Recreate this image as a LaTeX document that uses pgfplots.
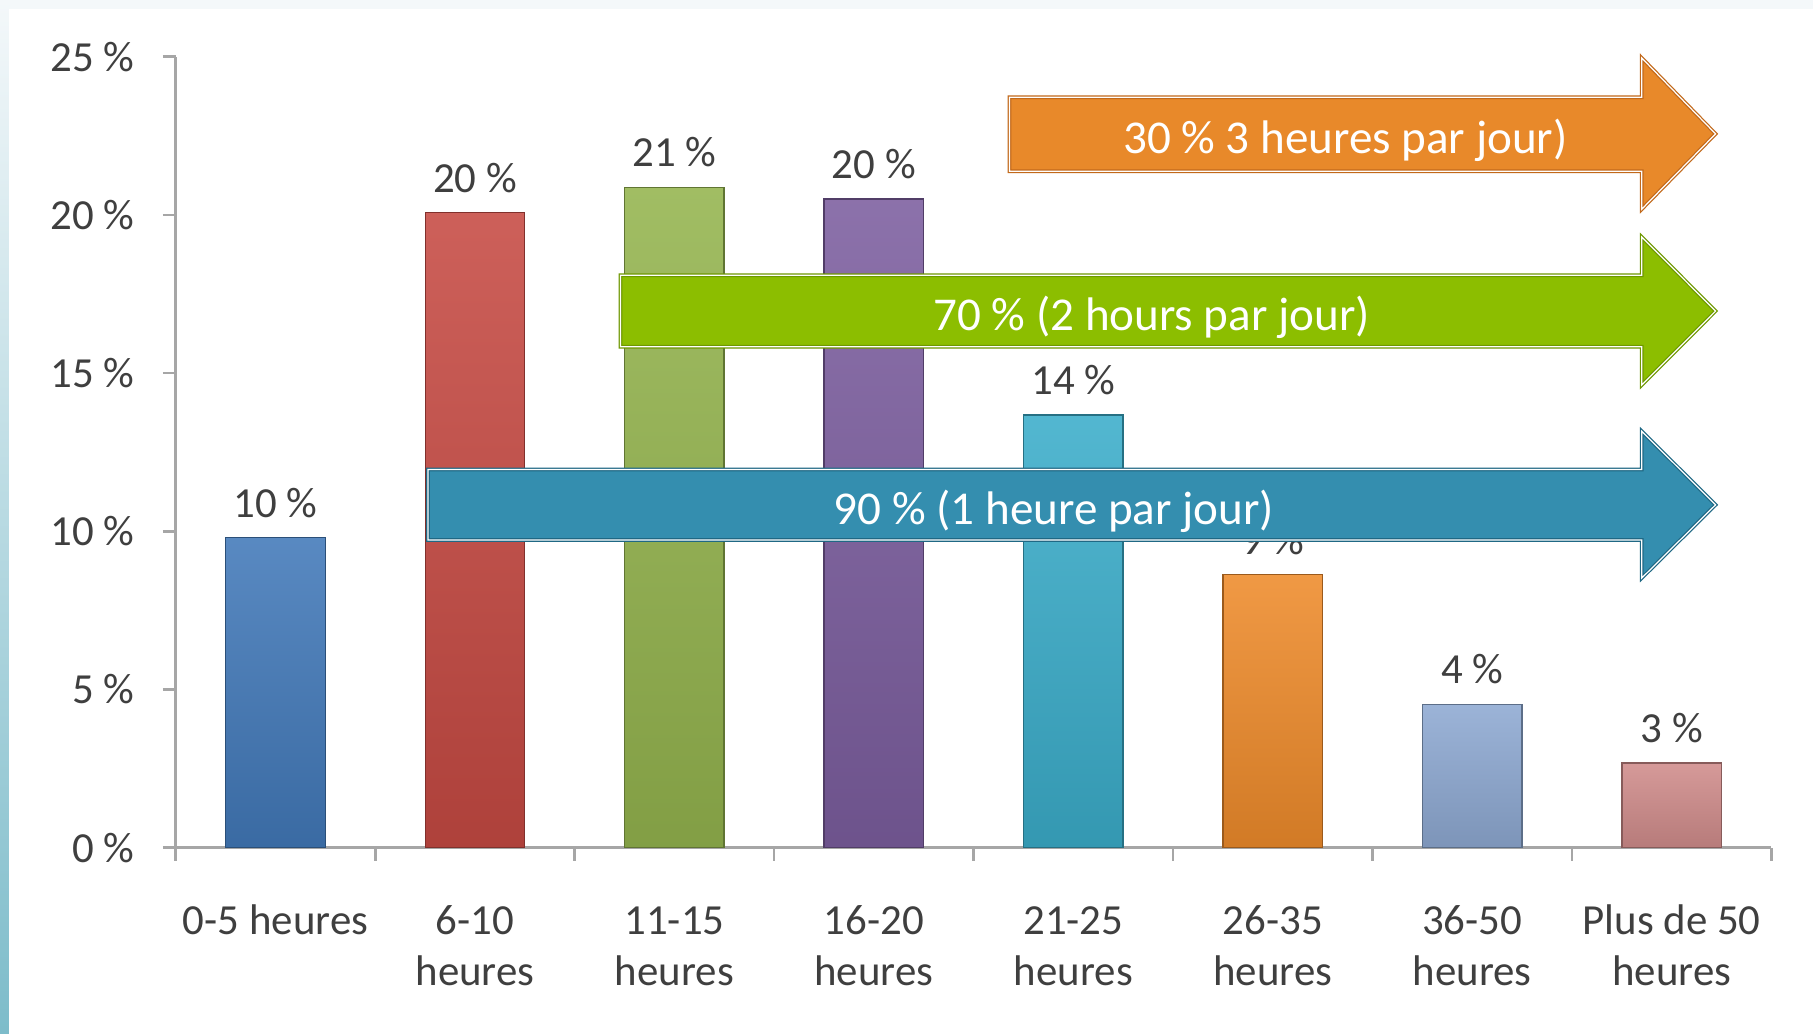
\documentclass[border=0pt]{standalone}
\usepackage{fontspec}
\setmainfont{Carlito}
\usepackage{pgfplots}
\pgfplotsset{compat=1.18}
\definecolor{txt}{HTML}{3F3F3F}
\definecolor{axisgray}{HTML}{A6A6A6}
\definecolor{cA}{HTML}{4279B9}
\definecolor{cB}{HTML}{C64A43}
\definecolor{cC}{HTML}{94B44E}
\definecolor{cD}{HTML}{7C5E9F}
\definecolor{cE}{HTML}{3BADCA}
\definecolor{cF}{HTML}{EE8B2B}
\definecolor{cG}{HTML}{8EA9D2}
\definecolor{cH}{HTML}{D08C8B}
\definecolor{arrO}{HTML}{E8892A}
\definecolor{arrOd}{HTML}{C2691B}
\definecolor{arrG}{HTML}{8CBE00}
\definecolor{arrGd}{HTML}{6E9800}
\definecolor{arrB}{HTML}{348EAF}
\definecolor{arrBd}{HTML}{1F6884}
\definecolor{bgtop}{HTML}{F4F8FA}
\definecolor{stripmid}{HTML}{D6E9EE}
\definecolor{stripbot}{HTML}{7DBCCA}
\pgfplotsset{
  barstyle/.style={ybar, bar width=9.95mm, bar shift=0pt,
    top color=#1!88!white, bottom color=#1!88!black, draw=#1!65!black, line width=0.4pt},
}
\begin{document}
\begin{tikzpicture}
\useasboundingbox (0,0) rectangle (181.3mm,103.4mm);
\fill[bgtop] (0,0) rectangle (181.3mm,103.4mm);
\shade[top color=bgtop, middle color=stripmid, bottom color=stripbot] (0,0) rectangle (0.9mm,103.4mm);
\fill[white] (0.9mm,0) rectangle (181.3mm,102.5mm);
\begin{axis}[
  at={(17.58mm,18.64mm)}, anchor=south west,
  scale only axis, width=159.56mm, height=79.09mm,
  xmin=0, xmax=8, ymin=0, ymax=25,
  axis x line*=bottom, axis y line*=left,
  axis line style={draw=axisgray, line width=0.75pt, -},
  tick align=outside,
  major tick length=1.3mm,
  tick style={draw=axisgray, line width=0.75pt},
  ytick={0,5,10,15,20,25},
  yticklabels={0 \%,5 \%,10 \%,15 \%,20 \%,25 \%},
  yticklabel style={font=\fontsize{12.2}{14}\selectfont, text=txt, inner sep=0pt, xshift=-2.8mm},
  xtick={0,1,2,3,4,5,6,7,8},
  xticklabels={},
  extra x ticks={0.5,1.5,2.5,3.5,4.5,5.5,6.5,7.5},
  extra x tick labels={\strut 0-5 heures,\strut 6-10\\heures,\strut 11-15\\heures,\strut 16-20\\heures,\strut 21-25\\heures,\strut 26-35\\heures,\strut 36-50\\heures,\strut Plus de 50\\heures},
  extra x tick style={major tick length=0pt,
    xticklabel style={font=\fontsize{12.2}{14.3}\selectfont, text=txt, align=center, anchor=north, inner sep=0pt, yshift=-5.15mm}},
  every node near coord/.append style={anchor=center, yshift=3.5mm, font=\fontsize{12.2}{14}\selectfont, text=txt},
  clip=false,
]
\addplot[barstyle=cA, nodes near coords={10 \%}] coordinates {(0.5,9.8)};
\addplot[barstyle=cB, nodes near coords={20 \%}] coordinates {(1.5,20.07)};
\addplot[barstyle=cC, nodes near coords={21 \%}] coordinates {(2.5,20.87)};
\addplot[barstyle=cD, nodes near coords={20 \%}] coordinates {(3.5,20.5)};
\addplot[barstyle=cE, nodes near coords={14 \%}] coordinates {(4.5,13.67)};
\addplot[barstyle=cF] coordinates {(5.5,8.63)};
\addplot[barstyle=cG, nodes near coords={4 \%}] coordinates {(6.5,4.53)};
\addplot[barstyle=cH, nodes near coords={3 \%}] coordinates {(7.5,2.67)};

\node[anchor=center, yshift=3.5mm, font=\fontsize{12.2}{14}\selectfont, text=txt] at (axis cs:5.5,8.63) {9 \%};

\draw[fill=arrO, draw=arrOd, line width=0.35pt, double=white, double distance=0.35pt]
  (axis cs:4.18,23.72) -- (axis cs:7.35,23.72) -- (axis cs:7.35,24.96) -- (axis cs:7.72,22.56)
  -- (axis cs:7.35,20.18) -- (axis cs:7.35,21.38) -- (axis cs:4.18,21.38) -- cycle;
\node[text=white, font=\fontsize{13.4}{16}\selectfont] at (axis cs:5.864,22.36) {30 \% 3 heures par jour)};

\draw[fill=arrG, draw=arrGd, line width=0.35pt, double=white, double distance=0.35pt]
  (axis cs:2.23,18.09) -- (axis cs:7.35,18.09) -- (axis cs:7.35,19.30) -- (axis cs:7.72,16.96)
  -- (axis cs:7.35,14.62) -- (axis cs:7.35,15.83) -- (axis cs:2.23,15.83) -- cycle;
\node[text=white, font=\fontsize{13.4}{16}\selectfont] at (axis cs:4.893,16.76) {70 \% (2 hours par jour)};

\draw[fill=arrB, draw=arrBd, line width=0.35pt, double=white, double distance=0.35pt]
  (axis cs:1.264,11.95) -- (axis cs:7.35,11.95) -- (axis cs:7.35,13.16) -- (axis cs:7.72,10.835)
  -- (axis cs:7.35,8.52) -- (axis cs:7.35,9.72) -- (axis cs:1.264,9.72) -- cycle;
\node[text=white, font=\fontsize{13.4}{16}\selectfont] at (axis cs:4.403,10.62) {90 \% (1 heure par jour)};
\end{axis}
\end{tikzpicture}
\end{document}
